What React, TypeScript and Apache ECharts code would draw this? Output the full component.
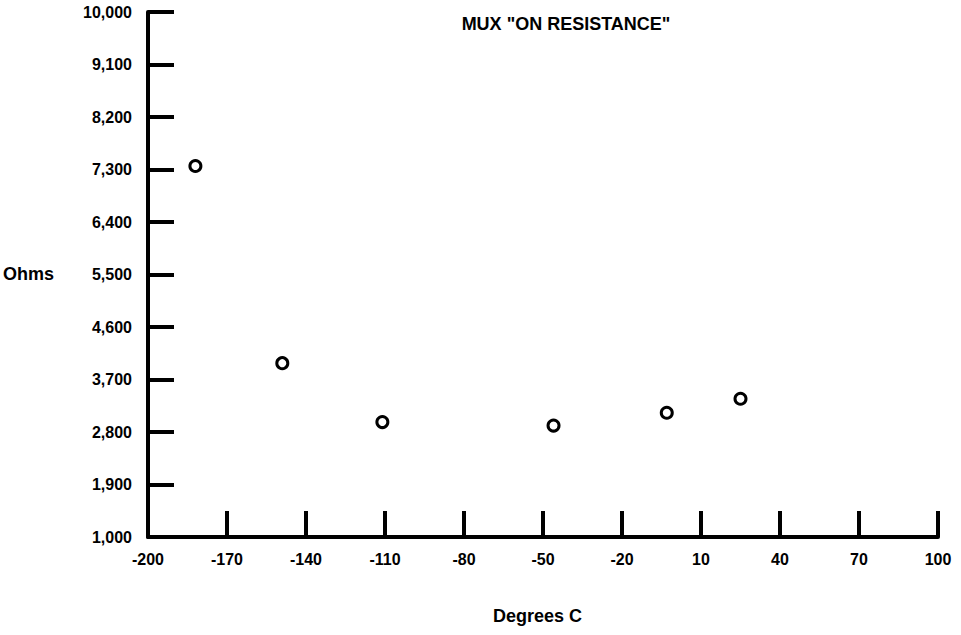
import React, { useEffect, useRef } from "react";
import * as echarts from "echarts";

const temperatures = [-182, -149, -111, -46, -3, 25];
const resistances = [7360, 3980, 2970, 2910, 3130, 3370];
const titleText = 'MUX "ON RESISTANCE"';
const xAxisName = "Degrees C";
const yAxisName = "Ohms";

const FONT = "'Liberation Sans', Arial, Helvetica, sans-serif";

export default function App() {
  const ref = useRef<HTMLDivElement>(null);
  useEffect(() => {
    if (!ref.current) return;
    const chart = echarts.init(ref.current, null, { renderer: "svg" });
    chart.setOption({
      animation: false,
      backgroundColor: "#ffffff",
      title: {
        text: titleText,
        left: 561,
        top: 10,
        textAlign: "center",
        textStyle: { fontFamily: FONT, fontWeight: "bold", fontSize: 18, color: "#000" },
      },
      graphic: [
        {
          type: "text",
          left: 3,
          top: 265,
          style: { text: yAxisName, font: `bold 18px ${FONT}`, fill: "#000" },
        },
        {
          type: "text",
          left: 493,
          top: 607,
          style: { text: xAxisName, font: `bold 18px ${FONT}`, fill: "#000" },
        },
      ],
      grid: { left: 148, right: 23, top: 12, bottom: 98, containLabel: false },
      xAxis: {
        type: "value",
        min: -200,
        max: 100,
        interval: 30,
        axisLine: { show: true, onZero: false, lineStyle: { color: "#000", width: 4 } },
        axisTick: { show: true, inside: true, length: 26, lineStyle: { color: "#000", width: 4 } },
        axisLabel: { fontFamily: FONT, fontWeight: "bold", fontSize: 16, color: "#000", margin: 14 },
        splitLine: { show: false },
      },
      yAxis: {
        type: "value",
        min: 1000,
        max: 10000,
        interval: 900,
        axisLine: { show: true, onZero: false, lineStyle: { color: "#000", width: 4 } },
        axisTick: { show: true, inside: true, length: 26, lineStyle: { color: "#000", width: 4 } },
        axisLabel: {
          fontFamily: FONT,
          fontWeight: "bold",
          fontSize: 16,
          color: "#000",
          margin: 16,
          formatter: (v: number) => v.toLocaleString("en-US"),
        },
        splitLine: { show: false },
      },
      series: [
        {
          type: "scatter",
          data: temperatures.map((t, i) => [t, resistances[i]]),
          symbol: "circle",
          symbolSize: 11,
          itemStyle: { color: "#ffffff", borderColor: "#000", borderWidth: 3, opacity: 1 },
        },
      ],
    });
    return () => chart.dispose();
  }, []);
  return <div ref={ref} style={{ width: 961, height: 635, position: "absolute", left: 0, top: 0 }} />;
}
